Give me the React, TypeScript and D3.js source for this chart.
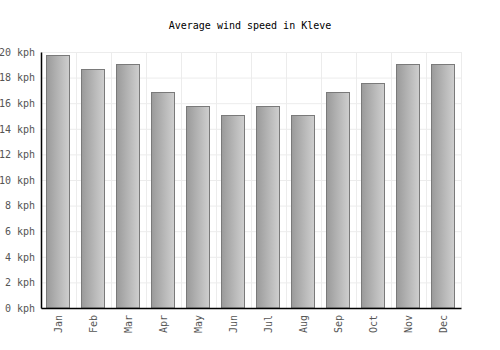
import { useRef, useEffect } from 'react'
import * as d3 from 'd3'

const MONTHS = ['Jan', 'Feb', 'Mar', 'Apr', 'May', 'Jun', 'Jul', 'Aug', 'Sep', 'Oct', 'Nov', 'Dec']
const WIND_SPEED = [19.8, 18.7, 19.1, 16.9, 15.8, 15.1, 15.8, 15.1, 16.9, 17.6, 19.1, 19.1]
const Y_TICKS = [0, 2, 4, 6, 8, 10, 12, 14, 16, 18, 20]

const WIDTH = 500
const HEIGHT = 350
const MARGIN = { top: 52, right: 39, bottom: 42, left: 41 }
const FONT = '"DejaVu Sans Mono", monospace'

export default function App() {
  const svgRef = useRef<SVGSVGElement>(null)

  useEffect(() => {
    if (!svgRef.current) return
    const innerWidth = WIDTH - MARGIN.left - MARGIN.right
    const innerHeight = HEIGHT - MARGIN.top - MARGIN.bottom

    const svg = d3.select(svgRef.current)
    svg.selectAll('*').remove()

    const grad = svg
      .append('defs')
      .append('linearGradient')
      .attr('id', 'barGrad')
      .attr('x1', '0%')
      .attr('x2', '100%')
    grad.append('stop').attr('offset', '0%').attr('stop-color', '#9a9a9a')
    grad.append('stop').attr('offset', '100%').attr('stop-color', '#cfcfcf')

    svg
      .append('text')
      .attr('x', WIDTH / 2)
      .attr('y', 29)
      .attr('text-anchor', 'middle')
      .attr('font-family', FONT)
      .attr('font-size', '10px')
      .attr('fill', '#000')
      .text('Average wind speed in Kleve')

    const g = svg.append('g').attr('transform', `translate(${MARGIN.left},${MARGIN.top})`)

    const x = d3.scaleBand().domain(MONTHS).range([0, innerWidth]).paddingInner(0.31).paddingOuter(0.155)
    const xGrid = d3.scaleBand().domain(MONTHS).range([0, innerWidth])
    const y = d3.scaleLinear().domain([0, 20]).range([innerHeight, 0])

    // grid
    g.selectAll('.hgrid')
      .data(Y_TICKS)
      .join('line')
      .attr('x1', 0)
      .attr('x2', innerWidth)
      .attr('y1', (d) => y(d) + 0.5)
      .attr('y2', (d) => y(d) + 0.5)
      .attr('stroke', '#ececec')
    g.selectAll('.vgrid')
      .data(MONTHS.slice(1).concat(['__end']))
      .join('line')
      .attr('x1', (d, i) => (i < 11 ? (xGrid(d) ?? 0) : innerWidth) + 0.5)
      .attr('x2', (d, i) => (i < 11 ? (xGrid(d) ?? 0) : innerWidth) + 0.5)
      .attr('y1', 0)
      .attr('y2', innerHeight)
      .attr('stroke', '#ececec')

    g.selectAll('.bar')
      .data(WIND_SPEED)
      .join('rect')
      .attr('x', (_d, i) => Math.round(x(MONTHS[i]) ?? 0) + 0.5)
      .attr('width', Math.round(x.bandwidth()) - 1)
      .attr('y', (d) => Math.round(y(d)) + 0.5)
      .attr('height', (d) => innerHeight - Math.round(y(d)) - 0.5)
      .attr('fill', 'url(#barGrad)')
      .attr('stroke', '#7a7a7a')

    const yAxis = g
      .append('g')
      .call(
        d3
          .axisLeft(y)
          .tickValues(Y_TICKS)
          .tickSize(0)
          .tickPadding(6)
          .tickFormat((d) => `${d} kph`),
      )
    yAxis.select('.domain').attr('stroke', '#000').attr('stroke-width', 1.5)
    yAxis.selectAll('text').attr('font-family', FONT).attr('font-size', '10px').attr('fill', '#555')

    const xAxis = g
      .append('g')
      .attr('transform', `translate(0,${innerHeight})`)
      .call(d3.axisBottom(x).tickSize(0).tickPadding(0))
    xAxis.select('.domain').attr('stroke', '#000').attr('stroke-width', 1.5)
    xAxis
      .selectAll('text')
      .attr('font-family', FONT)
      .attr('font-size', '10px')
      .attr('fill', '#555')
      .attr('transform', 'rotate(-90)')
      .attr('text-anchor', 'end')
      .attr('dy', '0.35em')
      .attr('x', -7)
      .attr('y', 0)
  }, [])

  return (
    <div style={{ position: 'absolute', left: 0, top: 0 }}>
      <svg ref={svgRef} width={WIDTH} height={HEIGHT} style={{ display: 'block', background: '#fff' }} />
    </div>
  )
}
